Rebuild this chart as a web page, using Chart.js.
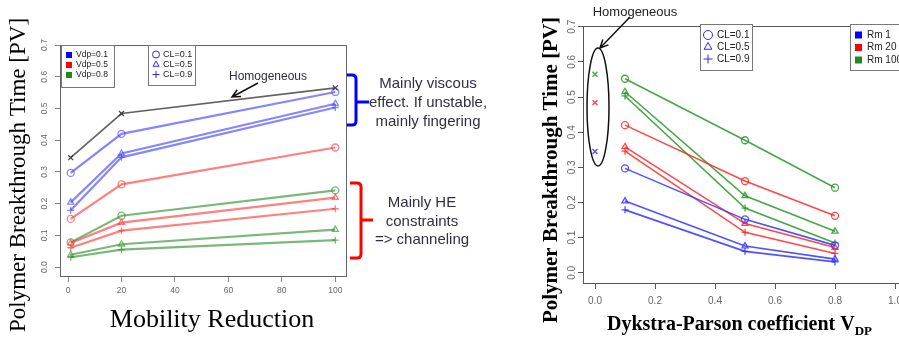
<!DOCTYPE html>
<html>
<head>
<meta charset="utf-8">
<script src="https://cdn.jsdelivr.net/npm/chart.js@4"></script>
<style>
  html, body { margin: 0; padding: 0; background: #fff; }
  body { width: 899px; height: 338px; overflow: hidden; position: relative; }
  .painel { position: absolute; top: 0; height: 338px; }
  #painelRm { left: 0; width: 520px; }
  #painelVdp { left: 520px; width: 420px; }
</style>
</head>
<body>
<div class="painel" id="painelRm"><canvas id="graficoRm" width="520" height="338"></canvas></div>
<div class="painel" id="painelVdp"><canvas id="graficoVdp" width="420" height="338"></canvas></div>
<script>
// dados: tempo de breakthrough do polímero [PV]
const rmValores = [1, 20, 100];
const vdpValores = [0.1, 0.5, 0.8];
const vdpRotulos = ['Vdp=0.1', 'Vdp=0.5', 'Vdp=0.8'];
const clRotulos = ['CL=0.1', 'CL=0.5', 'CL=0.9'];
const rmRotulos = ['Rm 1', 'Rm 20', 'Rm 100'];

// cada linha = um Rm (1, 20, 100); colunas = Vdp (0.1, 0.5, 0.8)
const btCL01 = [[0.297, 0.152, 0.078], [0.420, 0.261, 0.162], [0.552, 0.377, 0.242]];
const btCL05 = [[0.204, 0.076, 0.039], [0.358, 0.140, 0.072], [0.515, 0.219, 0.118]];
const btCL09 = [[0.179, 0.061, 0.031], [0.346, 0.115, 0.055], [0.503, 0.184, 0.085]];
const homogeneo = [0.345, 0.484, 0.565]; // Rm 1, 20, 100

const ticksXRm = [0, 20, 40, 60, 80, 100];
const ticksXVdp = [0, 0.2, 0.4, 0.6, 0.8, 1.0];
const ticksY = [0, 0.1, 0.2, 0.3, 0.4, 0.5, 0.6, 0.7];

const porCL = [btCL01, btCL05, btCL09];
const simbolos = ['circle', 'triangle', 'cross'];

const SANS = '"Liberation Sans", Arial, sans-serif';
const SERIF = '"Liberation Serif", "Times New Roman", serif';
const corSolida = ['#0000ff', '#ff0000', '#1e8c1e'];
const corClara = ['rgba(60,60,255,0.62)', 'rgba(255,50,50,0.62)', 'rgba(40,140,40,0.62)'];
const corForte = ['rgba(50,50,255,0.85)', 'rgba(255,40,40,0.85)', 'rgba(40,150,40,0.85)'];

function escalas(cfg) {
    return {
        x: {
            type: 'linear', min: cfg.xMin, max: cfg.xMax,
            afterBuildTicks: s => { s.ticks = cfg.xTicks.map(v => ({ value: v })); },
            afterFit: s => { s.height = cfg.alturaX; },
            border: { display: false },
            grid: { drawOnChartArea: false, drawTicks: true, tickLength: 6, color: cfg.corTick },
            ticks: {
                font: { size: cfg.fonteTick, family: SANS }, color: '#666',
                padding: cfg.padX, maxRotation: 0, minRotation: 0,
                callback: v => cfg.fmtX(v)
            }
        },
        y: {
            type: 'linear', min: cfg.yMin, max: cfg.yMax,
            afterBuildTicks: s => { s.ticks = ticksY.map(v => ({ value: v })); },
            afterFit: s => { s.width = cfg.larguraY; },
            border: { display: false },
            grid: { drawOnChartArea: false, drawTicks: true, tickLength: 5, color: cfg.corTick },
            ticks: { display: false }
        }
    };
}

function rotulosY(chart, xRotulo, tamanho) {
    const { ctx, scales: { y } } = chart;
    ctx.save();
    ctx.font = tamanho + 'px ' + SANS;
    ctx.fillStyle = '#666';
    ctx.textAlign = 'center';
    ctx.textBaseline = 'middle';
    ticksY.forEach(v => {
        ctx.save();
        ctx.translate(xRotulo, y.getPixelForValue(v));
        ctx.rotate(-Math.PI / 2);
        ctx.fillText(v.toFixed(1), 0, 0);
        ctx.restore();
    });
    ctx.restore();
}

function moldura(chart, cor) {
    const { ctx, chartArea: a } = chart;
    ctx.save();
    ctx.strokeStyle = cor;
    ctx.lineWidth = 1;
    ctx.strokeRect(Math.round(a.left) + 0.5, Math.round(a.top) + 0.5,
        Math.round(a.right - a.left), Math.round(a.bottom - a.top));
    ctx.restore();
}

function simbolo(ctx, estilo, raio, x, y, cor) {
    ctx.save();
    ctx.strokeStyle = cor;
    ctx.fillStyle = 'rgba(0,0,0,0)';
    Chart.helpers.drawPoint(ctx, { pointStyle: estilo, radius: raio, rotation: 0, borderWidth: 1.3 }, x, y);
    ctx.restore();
}

function caixaLegenda(ctx, x, y, w, h) {
    ctx.save();
    ctx.fillStyle = '#fff';
    ctx.fillRect(x, y, w, h);
    ctx.strokeStyle = '#777';
    ctx.lineWidth = 1;
    ctx.strokeRect(x + 0.5, y + 0.5, w, h);
    ctx.restore();
}

function seta(ctx, x1, y1, x2, y2) {
    const ang = Math.atan2(y2 - y1, x2 - x1);
    ctx.save();
    ctx.strokeStyle = '#111';
    ctx.lineWidth = 1.5;
    ctx.beginPath();
    ctx.moveTo(x1, y1);
    ctx.lineTo(x2, y2);
    ctx.moveTo(x2 - 9 * Math.cos(ang - 0.45), y2 - 9 * Math.sin(ang - 0.45));
    ctx.lineTo(x2, y2);
    ctx.lineTo(x2 - 9 * Math.cos(ang + 0.45), y2 - 9 * Math.sin(ang + 0.45));
    ctx.stroke();
    ctx.restore();
}

function texto(ctx, txt, x, y, fonte, cor, alinh) {
    ctx.save();
    ctx.font = fonte;
    ctx.fillStyle = cor;
    ctx.textAlign = alinh || 'center';
    ctx.textBaseline = 'middle';
    ctx.fillText(txt, x, y);
    ctx.restore();
}

function textoVertical(ctx, txt, x, y, fonte) {
    ctx.save();
    ctx.translate(x, y);
    ctx.rotate(-Math.PI / 2);
    ctx.font = fonte;
    ctx.fillStyle = '#000';
    ctx.textAlign = 'center';
    ctx.textBaseline = 'middle';
    ctx.fillText(txt, 0, 0);
    ctx.restore();
}

// ---------- gráfico 1: tempo x redução de mobilidade ----------
const datasetsRm = [];
vdpValores.forEach((vdp, v) => {
    porCL.forEach((tabela, c) => {
        datasetsRm.push({
            label: vdpRotulos[v] + ' ' + clRotulos[c],
            data: rmValores.map((rm, r) => ({ x: rm, y: tabela[r][v] })),
            showLine: true,
            borderColor: corClara[v],
            borderWidth: 2.2,
            pointStyle: simbolos[c],
            pointRadius: 3.5,
            pointBorderWidth: 1.3,
            pointBackgroundColor: 'rgba(255,255,255,0)',
            pointBorderColor: corClara[v]
        });
    });
});
datasetsRm.push({
    label: 'Homogeneous',
    data: rmValores.map((rm, r) => ({ x: rm, y: homogeneo[r] })),
    showLine: true,
    borderColor: 'rgba(70,70,70,0.85)',
    borderWidth: 1.6,
    pointStyle: 'crossRot',
    pointRadius: 3.5,
    pointBorderWidth: 1.3,
    pointBorderColor: 'rgba(50,50,50,0.9)'
});

const extrasRm = {
    id: 'extrasRm',
    afterDraw(chart) {
        const ctx = chart.ctx;
        moldura(chart, '#666');
        rotulosY(chart, 45, 8.5);

        // legenda de Vdp (cores)
        caixaLegenda(ctx, 61, 45, 53, 42);
        vdpRotulos.forEach((r, i) => {
            const yy = 55 + i * 10;
            ctx.fillStyle = corSolida[i];
            ctx.fillRect(66, yy - 3, 6, 6);
            texto(ctx, r, 76, yy, '8.5px ' + SANS, '#222', 'left');
        });
        // legenda de CL (símbolos)
        caixaLegenda(ctx, 148, 45, 47, 40);
        clRotulos.forEach((r, i) => {
            const yy = 54.5 + i * 10;
            simbolo(ctx, simbolos[i], 3.5, 156, yy, '#2a2aff');
            texto(ctx, r, 163, yy, '9px ' + SANS, '#222', 'left');
        });

        texto(ctx, 'Homogeneous', 268, 77, '12px ' + SANS, '#2d2d40');
        seta(ctx, 258, 83, 232, 97);

        // chave azul
        ctx.save();
        ctx.lineWidth = 3;
        ctx.strokeStyle = '#0000ff';
        ctx.beginPath();
        ctx.moveTo(347, 75); ctx.lineTo(352, 75);
        ctx.quadraticCurveTo(356, 75, 356, 79);
        ctx.lineTo(356, 121);
        ctx.quadraticCurveTo(356, 125, 352, 125);
        ctx.lineTo(347, 125);
        ctx.moveTo(356, 102); ctx.lineTo(369, 102);
        ctx.stroke();
        // chave vermelha
        ctx.strokeStyle = '#ff0000';
        ctx.beginPath();
        ctx.moveTo(350, 183); ctx.lineTo(357, 183);
        ctx.quadraticCurveTo(361, 183, 361, 187);
        ctx.lineTo(361, 254);
        ctx.quadraticCurveTo(361, 258, 357, 258);
        ctx.lineTo(350, 258);
        ctx.moveTo(361, 220); ctx.lineTo(373, 220);
        ctx.stroke();
        ctx.restore();

        const fAnot = '15px ' + SANS;
        texto(ctx, 'Mainly viscous', 428, 84, fAnot, '#303040');
        texto(ctx, 'effect. If unstable,', 428, 103, fAnot, '#303040');
        texto(ctx, 'mainly fingering', 428, 122, fAnot, '#303040');
        texto(ctx, 'Mainly HE', 422, 203, fAnot, '#303040');
        texto(ctx, 'constraints', 422, 222, fAnot, '#303040');
        texto(ctx, '=> channeling', 422, 240, fAnot, '#303040');

        // títulos dos eixos
        textoVertical(ctx, 'Polymer Breakthrough Time [PV]', 19, 175, '23px ' + SERIF);
        ctx.save();
        ctx.font = '26px ' + SERIF;
        ctx.fillStyle = '#000';
        ctx.textAlign = 'center';
        ctx.textBaseline = 'alphabetic';
        ctx.fillText('Mobility Reduction', 212, 327);
        ctx.restore();
    }
};

new Chart(document.getElementById('graficoRm'), {
    type: 'scatter',
    data: { datasets: datasetsRm },
    options: {
        responsive: false,
        animation: false,
        layout: { padding: { left: 0, top: 45, right: 174, bottom: 0 } },
        plugins: { legend: { display: false }, tooltip: { enabled: false } },
        scales: escalas({
            xMin: -3, xMax: 104, xTicks: ticksXRm, fmtX: v => String(v),
            yMin: -0.028, yMax: 0.7, larguraY: 60, alturaX: 62,
            corTick: '#888', fonteTick: 8.5, padX: 4
        })
    },
    plugins: [extrasRm]
});

// ---------- gráfico 2: tempo x coeficiente de Dykstra-Parsons ----------
const datasetsVdp = [];
rmValores.forEach((rm, r) => {
    porCL.forEach((tabela, c) => {
        datasetsVdp.push({
            label: rmRotulos[r] + ' ' + clRotulos[c],
            data: vdpValores.map((vdp, v) => ({ x: vdp, y: tabela[r][v] })),
            showLine: true,
            borderColor: corForte[r],
            borderWidth: 1.6,
            pointStyle: simbolos[c],
            pointRadius: 3.5,
            pointBorderWidth: 1.3,
            pointBackgroundColor: 'rgba(255,255,255,0)',
            pointBorderColor: corForte[r]
        });
    });
    datasetsVdp.push({
        label: rmRotulos[r] + ' Homogeneous',
        data: [{ x: 0, y: homogeneo[r] }],
        showLine: false,
        pointStyle: 'crossRot',
        pointRadius: 3.5,
        pointBorderWidth: 1.4,
        pointBorderColor: corForte[r]
    });
});

const extrasVdp = {
    id: 'extrasVdp',
    afterDraw(chart) {
        const ctx = chart.ctx;
        moldura(chart, '#555');
        rotulosY(chart, 52, 10);

        caixaLegenda(ctx, 180, 24, 52, 46);
        clRotulos.forEach((r, i) => {
            const yy = 35 + i * 12;
            simbolo(ctx, simbolos[i], 4.5, 188, yy, '#2a2aff');
            texto(ctx, r, 197, yy, '10px ' + SANS, '#222', 'left');
        });
        caixaLegenda(ctx, 330, 24, 90, 46);
        rmRotulos.forEach((r, i) => {
            const yy = 35 + i * 12.5;
            ctx.fillStyle = corSolida[i];
            ctx.fillRect(335, yy - 3.5, 7, 7);
            texto(ctx, r, 347, yy, '10px ' + SANS, '#222', 'left');
        });

        texto(ctx, 'Homogeneous', 115, 12, '13px ' + SANS, '#222');
        seta(ctx, 110, 17, 80, 48);
        ctx.save();
        ctx.strokeStyle = '#111';
        ctx.lineWidth = 1.5;
        ctx.beginPath();
        ctx.ellipse(78, 107, 11, 59, 0, 0, Math.PI * 2);
        ctx.stroke();
        ctx.restore();

        textoVertical(ctx, 'Polymer Breakthrough Time [PV]', 32, 170, 'bold 21px ' + SERIF);
        ctx.save();
        ctx.fillStyle = '#000';
        ctx.textBaseline = 'alphabetic';
        ctx.textAlign = 'left';
        ctx.font = 'bold 20px ' + SERIF;
        const principal = 'Dykstra-Parson coefficient V';
        ctx.fillText(principal, 87, 330);
        const w = ctx.measureText(principal).width;
        ctx.font = 'bold 13px ' + SERIF;
        ctx.fillText('DP', 87 + w, 335);
        ctx.restore();
    }
};

new Chart(document.getElementById('graficoVdp'), {
    type: 'scatter',
    data: { datasets: datasetsVdp },
    options: {
        responsive: false,
        animation: false,
        layout: { padding: { left: 0, top: 26, right: 33, bottom: 0 } },
        plugins: { legend: { display: false }, tooltip: { enabled: false } },
        scales: escalas({
            xMin: -0.04, xMax: 1.04, xTicks: ticksXVdp, fmtX: v => v.toFixed(1),
            yMin: -0.029, yMax: 0.702, larguraY: 63, alturaX: 55,
            corTick: '#555', fonteTick: 10, padX: 6
        })
    },
    plugins: [extrasVdp]
});
</script>
</body>
</html>
